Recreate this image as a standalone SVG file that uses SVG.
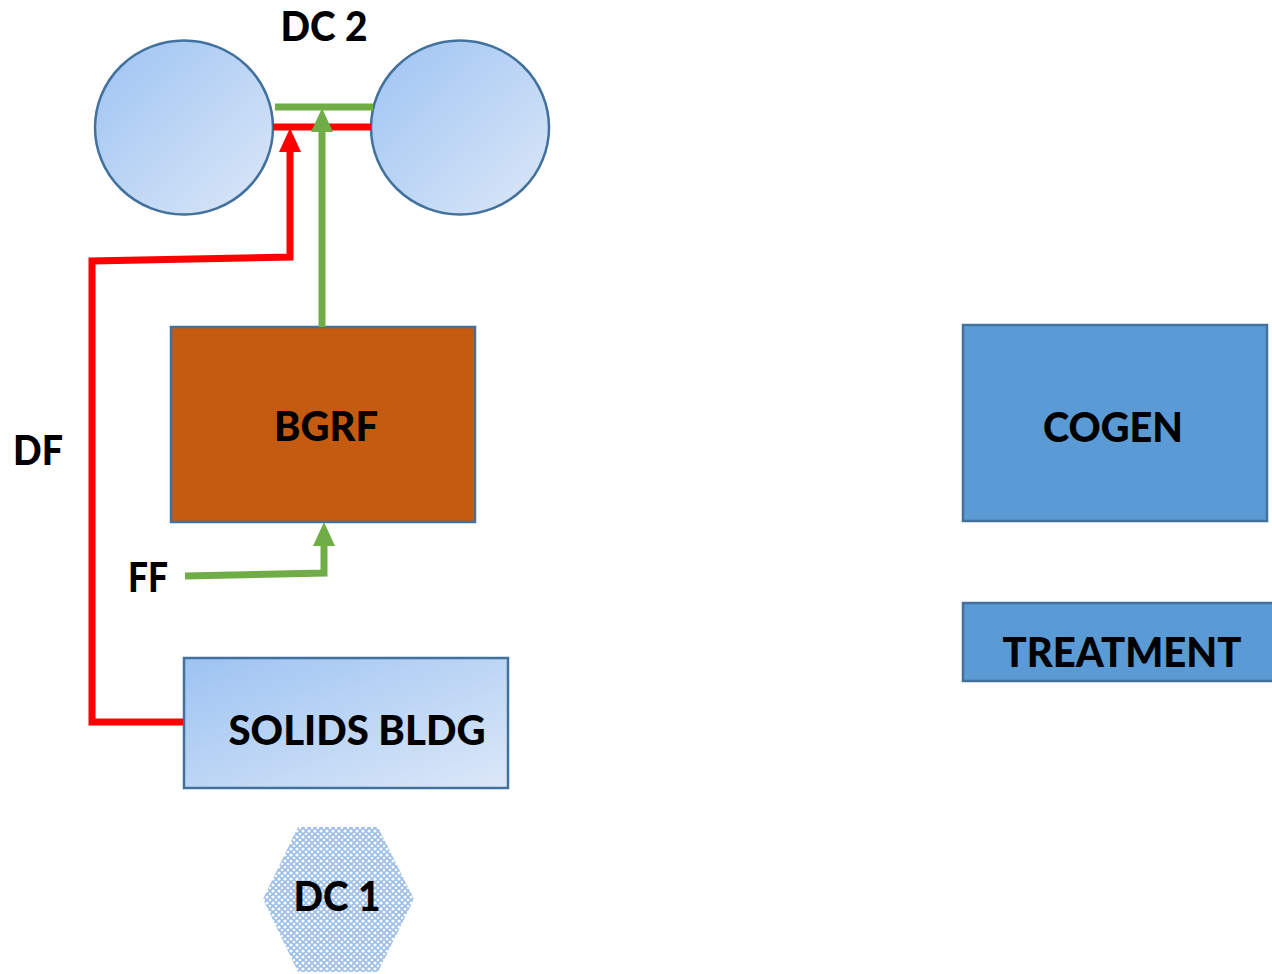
<svg xmlns="http://www.w3.org/2000/svg" width="1272" height="974" viewBox="0 0 1272 974">
<style>
.lbl{font-family:Lato,"Open Sans","Liberation Sans",sans-serif;font-weight:900;font-size:41px;fill:#000}
.nd{stroke:#41719C;stroke-width:2.5}
.red{fill:none;stroke:#FF0000;stroke-width:7}
.grn{fill:none;stroke:#70AD47;stroke-width:7}
</style>
<defs>
<linearGradient id="lg" x1="0" y1="0" x2="1" y2="1">
<stop offset="0" stop-color="#9DC3F2"/>
<stop offset="1" stop-color="#DCE8F8"/>
</linearGradient>
<pattern id="hx" width="6" height="6" patternUnits="userSpaceOnUse">
<rect width="6" height="6" fill="#9EBFE8"/>
<circle cx="3" cy="3" r="1.6" fill="#FFFFFF"/>
<circle cx="0" cy="0" r="1.3" fill="#FFFFFF"/>
<circle cx="6" cy="0" r="1.3" fill="#FFFFFF"/>
<circle cx="0" cy="6" r="1.3" fill="#FFFFFF"/>
<circle cx="6" cy="6" r="1.3" fill="#FFFFFF"/>
</pattern>
<marker id="ar" markerUnits="userSpaceOnUse" markerWidth="24" markerHeight="24" refX="0" refY="11" orient="auto" viewBox="0 0 24 22">
<path d="M0,0 L24,11 L0,22 z" fill="#FF0000"/>
</marker>
<marker id="ag" markerUnits="userSpaceOnUse" markerWidth="24" markerHeight="24" refX="0" refY="11" orient="auto" viewBox="0 0 24 22">
<path d="M0,0 L24,11 L0,22 z" fill="#70AD47"/>
</marker>
</defs>
<rect width="1272" height="974" fill="#FFFFFF"/>
<g id="dc2-left"><ellipse class="nd" cx="184" cy="127.5" rx="89" ry="87" fill="url(#lg)"/></g>
<g id="dc2-right"><ellipse class="nd" cx="460" cy="127.5" rx="89" ry="87" fill="url(#lg)"/></g>
<g id="dc2-label"><text class="lbl" x="324" y="41" text-anchor="middle" textLength="87" lengthAdjust="spacingAndGlyphs">DC 2</text></g>
<g id="bgrf"><rect class="nd" x="171" y="327" width="304" height="195" fill="#C55A11"/><text class="lbl" x="326" y="441" text-anchor="middle" textLength="104" lengthAdjust="spacingAndGlyphs">BGRF</text></g>
<g id="cogen"><rect class="nd" x="963" y="325" width="304" height="196" fill="#5B9BD5"/><text class="lbl" x="1113" y="442" text-anchor="middle" textLength="140" lengthAdjust="spacingAndGlyphs">COGEN</text></g>
<g id="treatment"><rect class="nd" x="963" y="603" width="312" height="78" fill="#5B9BD5"/><text class="lbl" x="1122" y="667" text-anchor="middle" textLength="239" lengthAdjust="spacingAndGlyphs">TREATMENT</text></g>
<g id="solids-bldg"><rect class="nd" x="184" y="658" width="324" height="130" fill="url(#lg)"/><text class="lbl" x="357" y="745" text-anchor="middle" textLength="257" lengthAdjust="spacingAndGlyphs">SOLIDS BLDG</text></g>
<g id="dc1"><polygon points="298,827 378,827 414,899 378,972 298,972 263,899" fill="url(#hx)"/><text class="lbl" x="337" y="911" text-anchor="middle" textLength="87" lengthAdjust="spacingAndGlyphs">DC 1</text></g>
<g id="df-label"><text class="lbl" x="38" y="465" text-anchor="middle" textLength="50" lengthAdjust="spacingAndGlyphs">DF</text></g>
<g id="ff-label"><text class="lbl" x="148" y="592" text-anchor="middle" textLength="40" lengthAdjust="spacingAndGlyphs">FF</text></g>
<g id="connectors">
<path class="red" d="M273,127 L371,127"/>
<path class="grn" d="M275,107 L373,107"/>
<path class="red" d="M183,722 L92,722 L92,261 L290,257 L290,152" marker-end="url(#ar)"/>
<path class="grn" d="M322,327 L322,132" marker-end="url(#ag)"/>
<path class="grn" d="M185,576 L324,573 L324,546" marker-end="url(#ag)"/>
</g>
</svg>
